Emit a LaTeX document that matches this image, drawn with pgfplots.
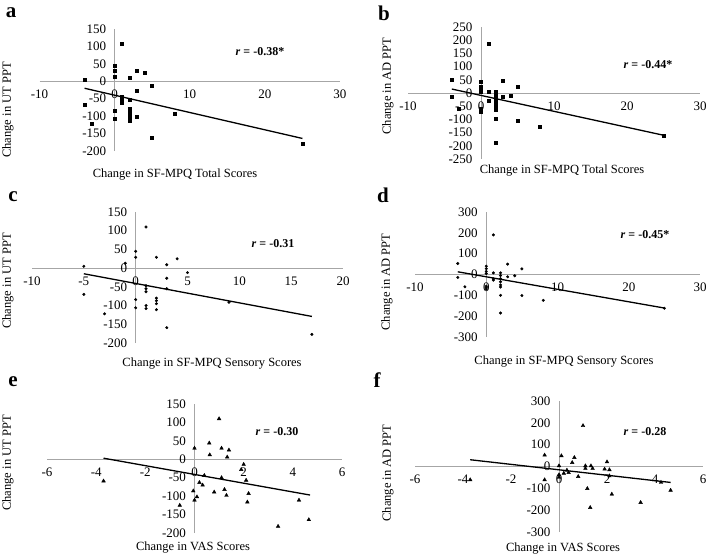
\documentclass[border=0pt]{standalone}
\usepackage{fontspec}
\setmainfont{Liberation Serif}
\usepackage{pgfplots}
\pgfplotsset{compat=1.18}
\pgfplotsset{
 panel/.style={
  scale only axis,
  axis lines=middle,
  axis line style={draw=black!35, line width=0.8pt, -},
  major tick length=0pt,
  hide obscured x ticks=false,
  hide obscured y ticks=false,
  every tick label/.append style={font=\fontsize{13}{14}\selectfont},
  /pgf/number format/assume math mode=true,
  xticklabel style={anchor=north, yshift=-5pt},
  yticklabel style={anchor=east, xshift=-5pt},
  clip=false,
 },
 sq/.style={only marks, mark=square*, mark size=1.5pt, color=black, mark options={fill=black}},
 dt/.style={only marks, mark=*, mark size=1.3pt, color=black, mark options={fill=black}},
 tr/.style={only marks, mark=triangle*, mark size=2.1pt, color=black, mark options={fill=black}},
 fit/.style={black, line width=1.3pt, no marks},
}
\newcommand{\lab}{\fontsize{12.5}{14}\selectfont}
\newcommand{\rr}{\fontsize{12}{13}\selectfont\bfseries}
\begin{document}
\begin{tikzpicture}
\useasboundingbox (0,0) rectangle (709pt,558pt);
% ---------- a ----------
\begin{axis}[panel, at={(39.5pt,407pt)}, anchor=south west, width=300.5pt, height=122pt,
  xmin=-10, xmax=30, ymin=-200, ymax=150, xtick={-10,0,10,20,30}, ytick={-200,-150,...,150}]
\addplot[sq] coordinates {(-4,5)(-4,-68)(-3,-123)(0,45)(0,29)(0,12)(0,-85)(0,-107)(1,109)(1,-44)(1,-52)(1,-62)(2,9)(2,-54)(2,-80)(2,-88)(2,-96)(2,-104)(2,-112)(3,29)(3,-28)(3,-101)(4,25)(5,-12)(5,-161)(8,-92)(25,-178)};
\addplot[fit] coordinates {(-4,-20)(25,-164)};
\end{axis}
% ---------- b ----------
\begin{axis}[panel, at={(408pt,399pt)}, anchor=south west, width=292pt, height=132pt,
  xmin=-10, xmax=30, ymin=-250, ymax=250, xtick={-10,0,10,20,30}, ytick={-250,-200,...,250}]
\addplot[sq] coordinates {(-4,52)(-4,-13)(-3,-59)(0,43)(0,23)(0,15)(0,6)(0,-61)(0,-72)(1,186)(1,5)(1,-28)(2,5)(2,-5)(2,-20)(2,-35)(2,-50)(2,-63)(2,-98)(2,-187)(3,47)(3,-13)(4,-10)(5,23)(5,-106)(8,-126)(25,-163)};
\addplot[fit] coordinates {(-4,15)(25,-160)};
\end{axis}
% ---------- c ----------
\begin{axis}[panel, at={(32pt,215pt)}, anchor=south west, width=311pt, height=131pt,
  xmin=-10, xmax=20, ymin=-200, ymax=150, xtick={-10,-5,...,20}, ytick={-200,-150,...,150}]
\addplot[dt] coordinates {(-5,5)(-5,-70)(-3,-122)(-1,13)(0,45)(0,29)(0,-84)(0,-106)(1,110)(1,-47)(1,-55)(1,-63)(1,-100)(1,-108)(2,29)(2,-80)(2,-87)(2,-95)(2,-111)(3,9)(3,-27)(3,-55)(3,-159)(4,25)(5,-12)(9,-91)(17,-177)};
\addplot[fit] coordinates {(-5,-15)(17,-129)};
\end{axis}
% ---------- d ----------
\begin{axis}[panel, at={(415pt,221pt)}, anchor=south west, width=285pt, height=125pt,
  xmin=-10, xmax=30, ymin=-300, ymax=300, xtick={-10,0,10,20,30}, ytick={-300,-200,...,300}]
\addplot[dt] coordinates {(-4,53)(-4,-14)(-3,-59)(0,40)(0,28)(0,15)(0,5)(0,-56)(0,-63)(0,-70)(1,190)(1,8)(1,-21)(1,-27)(2,8)(2,-5)(2,-20)(2,-35)(2,-50)(2,-60)(2,-100)(2,-185)(3,50)(3,-11)(4,-6)(5,27)(5,-101)(8,-124)(25,-162)};
\addplot[fit] coordinates {(-4,13)(25,-161)};
\end{axis}
% ---------- e ----------
\begin{axis}[panel, at={(47pt,25pt)}, anchor=south west, width=295pt, height=129pt,
  xmin=-6, xmax=6, ymin=-200, ymax=150, xtick={-6,-4,...,6}, ytick={-200,-150,...,150}]
\addplot[tr] coordinates {(-3.7,-59)(-0.6,-125)(0,30)(-0.05,-86)(0,-111)(0.1,-102)(0.2,-63)(0.33,-70)(0.4,-44)(0.6,44)(0.62,12)(0.8,-89)(1,110)(1.1,30)(1.1,-50)(1.22,-82)(1.3,-98)(1.33,6)(1.4,25)(1.9,-28)(2,-14)(2.1,-57)(2.15,-116)(2.2,-93)(3.4,-182)(4.25,-111)(4.65,-164)};
\addplot[fit] coordinates {(-3.7,3)(4.7,-97)};
\end{axis}
% ---------- f ----------
\begin{axis}[panel, at={(415pt,26pt)}, anchor=south west, width=288pt, height=131pt,
  xmin=-6, xmax=6, ymin=-300, ymax=300, xtick={-6,-4,...,6}, ytick={-300,-200,...,300}]
\addplot[tr] coordinates {(-3.7,-61)(-0.6,52)(-0.6,-61)(0,3)(0,-38)(0,-50)(0.1,49)(0.2,-31)(0.33,-17)(0.4,-28)(0.55,18)(0.64,41)(0.8,-46)(1,187)(1.1,3)(1.1,-9)(1.18,-101)(1.3,-188)(1.33,3)(1.4,-9)(1.9,-12)(2,21)(2.1,-15)(2.1,-43)(2.2,-127)(3.4,-165)(4.25,-73)(4.65,-109)};
\addplot[fit] coordinates {(-3.7,31)(4.65,-73)};
\end{axis}
% ---------- texts ----------
\begin{scope}[every node/.style={inner sep=0pt}]
\node[font=\fontsize{21}{21}\selectfont\bfseries] at (11pt,545pt) {a};
\node[font=\fontsize{21}{21}\selectfont\bfseries] at (384pt,545pt) {b};
\node[font=\fontsize{21}{21}\selectfont\bfseries] at (13pt,361pt) {c};
\node[font=\fontsize{21}{21}\selectfont\bfseries] at (383pt,363pt) {d};
\node[font=\fontsize{21}{21}\selectfont\bfseries] at (13pt,176pt) {e};
\node[font=\fontsize{21}{21}\selectfont\bfseries] at (377pt,178pt) {f};
\node[font=\lab] at (175pt,383pt) {Change in SF-MPQ Total Scores};
\node[font=\lab] at (562pt,387pt) {Change in SF-MPQ Total Scores};
\node[font=\lab] at (212pt,194pt) {Change in SF-MPQ Sensory Scores};
\node[font=\lab] at (564pt,196pt) {Change in SF-MPQ Sensory Scores};
\node[font=\lab] at (193pt,10pt) {Change in VAS Scores};
\node[font=\lab] at (563pt,9pt) {Change in VAS Scores};
\node[font=\lab, rotate=90] at (8pt,448pt) {Change in UT PPT};
\node[font=\lab, rotate=90] at (388pt,472pt) {Change in AD PPT};
\node[font=\lab, rotate=90] at (8pt,277pt) {Change in UT PPT};
\node[font=\lab, rotate=90] at (387pt,276pt) {Change in AD PPT};
\node[font=\lab, rotate=90] at (8pt,95pt) {Change in UT PPT};
\node[font=\lab, rotate=90] at (388pt,85pt) {Change in AD PPT};
\node[font=\rr] at (260pt,506pt) {\textit{r} = -0.38*};
\node[font=\rr] at (648pt,493pt) {\textit{r} = -0.44*};
\node[font=\rr] at (273pt,314pt) {\textit{r} = -0.31};
\node[font=\rr] at (645pt,323pt) {\textit{r} = -0.45*};
\node[font=\rr] at (277pt,126pt) {\textit{r} = -0.30};
\node[font=\rr] at (645pt,126pt) {\textit{r} = -0.28};
\end{scope}
\end{tikzpicture}
\end{document}
